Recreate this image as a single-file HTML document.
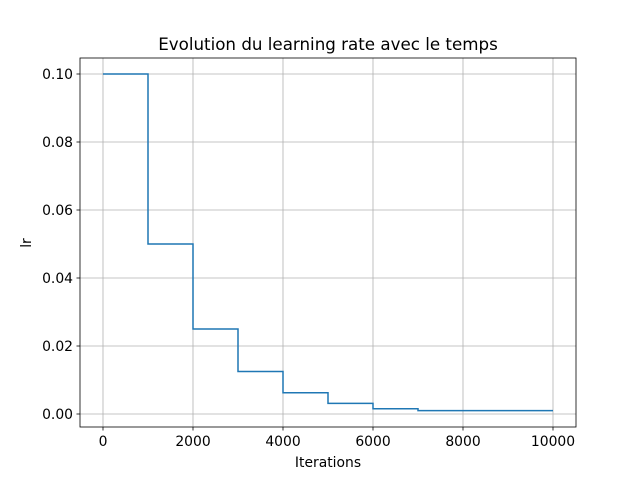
<!DOCTYPE html>
<html><head><meta charset="utf-8"><style>
body{margin:0;background:#fff;}
svg text{font-family:"DejaVu Sans","Liberation Sans",sans-serif;fill:#000;}
</style></head><body>
<svg id="chart" width="640" height="480">
<rect width="640" height="480" fill="#fff"/>
<g id="grid"></g>
<g id="ticks"></g>
<path id="line" fill="none" stroke="#1f77b4" stroke-width="1.5"/>
<rect x="80" y="58" width="496" height="369" fill="none" stroke="#000" stroke-width="0.8"/>
<text x="328" y="50" font-size="16.7" text-anchor="middle">Evolution du learning rate avec le temps</text>
<text x="328" y="467" font-size="13.9" text-anchor="middle">Iterations</text>
<text x="31" y="243" font-size="13.9" text-anchor="middle" transform="rotate(-90 31 243)">lr</text>
</svg>
<script>
const stepStarts=[0,1000,2000,3000,4000,5000,6000,7000,8000,9000];
const lrValues=[0.1,0.05,0.025,0.0125,0.00625,0.003125,0.0015625,0.001,0.001,0.001];
const xEnd=10000;
const xTicks=[0,2000,4000,6000,8000,10000];
const yTicks=[0,0.02,0.04,0.06,0.08,0.1];
const yTickLabels=["0.00","0.02","0.04","0.06","0.08","0.10"];
const X=v=>103+v*0.045;
const Y=v=>414-v*3400;
const ns="http://www.w3.org/2000/svg";
const grid=document.getElementById('grid'),ticks=document.getElementById('ticks');
function mk(tag,attrs,parent){const e=document.createElementNS(ns,tag);for(const k in attrs)e.setAttribute(k,attrs[k]);parent.appendChild(e);return e;}
xTicks.forEach(v=>{
 const l=mk('line',{x1:X(v),x2:X(v),y1:58,y2:427,stroke:'#b0b0b0','stroke-width':0.8},grid);
 
 
 mk('line',{x1:X(v),x2:X(v),y1:427,y2:430.5,stroke:'#000','stroke-width':0.8},ticks);
 const t=mk('text',{x:X(v),y:446,'font-size':13.9,'text-anchor':'middle'},ticks);
 t.textContent=String(v);
 
 
});
yTicks.forEach((v,i)=>{
 const l=mk('line',{x1:80,x2:576,y1:Y(v),y2:Y(v),stroke:'#b0b0b0','stroke-width':0.8},grid);
 
 
 mk('line',{x1:76.5,x2:80,y1:Y(v),y2:Y(v),stroke:'#000','stroke-width':0.8},ticks);
 const t=mk('text',{x:73,y:Y(v)+5,'font-size':13.9,'text-anchor':'end'},ticks);
 t.textContent=yTickLabels[i];
 
 
});
let d='';
stepStarts.forEach((s,i)=>{
 const e=i+1<stepStarts.length?stepStarts[i+1]:xEnd;
 d+=(i===0?'M':'L')+X(s)+' '+Y(lrValues[i])+' L'+X(e)+' '+Y(lrValues[i])+' ';
});
document.getElementById('line').setAttribute('d',d);
</script>
</body></html>
